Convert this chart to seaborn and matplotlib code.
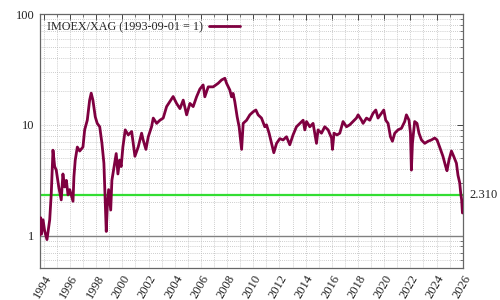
import matplotlib
matplotlib.use("Agg")
import matplotlib.pyplot as plt
import matplotlib.ticker as mticker
import numpy as np
import pandas as pd
import seaborn as sns

years = [
    1993.67, 1993.76, 1993.82, 1993.94, 1994.07, 1994.24, 1994.45, 1994.57, 1994.70, 1994.83,
    1994.95, 1995.14, 1995.33, 1995.46, 1995.59, 1995.72, 1995.85, 1995.98, 1996.23, 1996.30,
    1996.40, 1996.56, 1996.74, 1996.99, 1997.12, 1997.32, 1997.50, 1997.62, 1997.75, 1997.93,
    1998.08, 1998.27, 1998.44, 1998.59, 1998.65, 1998.77, 1998.85, 1998.95, 1999.11, 1999.20,
    1999.41, 1999.53, 1999.66, 1999.79, 1999.91, 2000.04, 2000.22, 2000.45, 2000.71, 2000.96,
    2001.21, 2001.47, 2001.59, 2001.80, 2001.98, 2002.23, 2002.36, 2002.62, 2002.87, 2003.12,
    2003.38, 2003.63, 2003.88, 2004.14, 2004.40, 2004.65, 2004.91, 2005.16, 2005.41, 2005.67,
    2005.92, 2006.17, 2006.30, 2006.56, 2006.94, 2007.32, 2007.58, 2007.83, 2007.96, 2008.21,
    2008.34, 2008.46, 2008.59, 2008.77, 2008.92, 2009.03, 2009.11, 2009.23, 2009.49, 2009.74,
    2009.99, 2010.20, 2010.37, 2010.63, 2010.88, 2011.01, 2011.21, 2011.40, 2011.57, 2011.78,
    2012.03, 2012.28, 2012.54, 2012.79, 2013.04, 2013.30, 2013.56, 2013.81, 2013.94, 2014.07,
    2014.32, 2014.57, 2014.83, 2014.95, 2015.21, 2015.46, 2015.72, 2015.98, 2016.05, 2016.17,
    2016.40, 2016.61, 2016.86, 2017.12, 2017.37, 2017.62, 2017.88, 2018.01, 2018.27, 2018.39,
    2018.65, 2018.90, 2019.15, 2019.36, 2019.53, 2019.79, 2019.97, 2020.12, 2020.30, 2020.48,
    2020.63, 2020.81, 2021.06, 2021.32, 2021.57, 2021.70, 2021.90, 2022.01, 2022.08, 2022.16,
    2022.33, 2022.51, 2022.66, 2022.85, 2023.10, 2023.35, 2023.61, 2023.86, 2024.04, 2024.24,
    2024.49, 2024.70, 2024.80, 2024.95, 2025.14, 2025.31, 2025.52, 2025.64, 2025.77, 2025.85,
    2025.92, 2025.98,
]
ratio = [
    1.00, 1.45, 1.03, 1.39, 1.09, 0.92, 1.39, 2.41, 5.9, 4.2,
    3.9, 2.75, 2.1, 3.6, 2.75, 3.15, 2.33, 2.6, 2.04, 3.4,
    4.8, 6.3, 5.8, 6.3, 9.0, 11.0, 16.7, 19.3, 16.7, 11.8,
    10.3, 9.6, 6.8, 4.5, 2.75, 1.09, 1.83, 2.6, 1.7, 3.15,
    4.5, 5.5, 3.6, 4.8, 4.2, 6.3, 9.0, 8.1, 8.7, 5.2,
    6.3, 8.4, 7.3, 6.0, 7.8, 9.6, 11.5, 10.3, 11.0, 11.5,
    14.6, 16.2, 18.0, 15.6, 14.0, 16.7, 12.3, 15.6, 14.6, 17.9,
    21.0, 22.9, 17.9, 22.0, 22.0, 23.7, 25.4, 26.3, 23.7, 20.6,
    17.9, 19.2, 16.2, 11.8, 9.6, 7.3, 6.0, 10.3, 11.0, 12.3,
    13.1, 13.6, 12.3, 11.5, 9.6, 10.0, 8.4, 6.8, 5.6, 6.8,
    7.5, 7.3, 7.8, 6.6, 8.1, 9.6, 10.3, 11.0, 9.0, 10.7,
    9.6, 10.3, 6.8, 9.0, 8.4, 9.6, 9.0, 7.6, 6.0, 8.4,
    8.1, 8.4, 10.7, 9.6, 10.0, 10.7, 11.5, 12.3, 11.0, 10.3,
    11.5, 11.0, 12.7, 13.6, 11.5, 12.7, 13.6, 11.0, 10.3, 7.8,
    7.1, 8.4, 9.0, 9.3, 10.7, 12.3, 11.0, 8.4, 3.9, 6.8,
    10.7, 10.3, 8.4, 7.3, 6.8, 7.1, 7.3, 7.6, 7.3, 6.3,
    5.2, 4.2, 3.85, 4.8, 5.8, 5.2, 4.5, 3.5, 3.0, 2.4,
    2.1, 1.6,
]
x_ticks = list(range(1994, 2027, 2))
current_level = 2.310
base_level = 1.0
legend_label = "IMOEX/XAG (1993-09-01 = 1)"

df = pd.DataFrame({"year": years, "ratio": ratio})

sns.set_style("white")
plt.rcParams["font.family"] = ["Liberation Serif", "DejaVu Serif"]

fig = plt.figure(figsize=(5, 3), dpi=100)
ax = fig.add_axes([0.079, 0.1067, 0.8464, 0.8466])

ax.set_yscale("log")
ax.set_xlim(1993.67, 2025.98)
ax.set_ylim(0.51, 100)

grid_kw = dict(color="#bdbdbd", linestyle=(0, (1, 1.5)), linewidth=0.6)
ax.xaxis.set_major_locator(mticker.FixedLocator(x_ticks))
ax.xaxis.set_minor_locator(mticker.MultipleLocator(1))
ax.yaxis.set_major_locator(mticker.LogLocator(base=10, numticks=10))
ax.yaxis.set_minor_locator(mticker.LogLocator(base=10, subs=np.arange(2, 10), numticks=20))
ax.yaxis.set_minor_formatter(mticker.NullFormatter())
ax.yaxis.set_major_formatter(mticker.FuncFormatter(lambda v, p: f"{v:g}"))
ax.grid(True, which="both", axis="both", **grid_kw)
ax.set_axisbelow(True)

ax.axhline(base_level, color="#808080", linewidth=1.0, zorder=2)
ax.axhline(current_level, color="#33dd33", linewidth=1.6, zorder=2)

sns.lineplot(data=df, x="year", y="ratio", ax=ax, color="#7f0040",
             linewidth=2.0, label=legend_label, zorder=3)

ax.text(1.016, current_level, f"{current_level:.3f}", transform=ax.get_yaxis_transform(),
        va="center", ha="left", fontsize=9, color="#222222")

ax.set_xlabel("")
ax.set_ylabel("")
ax.set_xticks(x_ticks)
ax.set_xticklabels([str(t) for t in x_ticks], rotation=60, ha="right",
                   rotation_mode="anchor", fontsize=9)
for lbl in ax.get_yticklabels():
    lbl.set_fontsize(9)

ax.tick_params(which="both", direction="in", top=True, right=True, colors="#444444",
               labelcolor="#222222")
ax.tick_params(which="major", length=4, width=0.7)
ax.tick_params(which="minor", length=2, width=0.5)
for s in ax.spines.values():
    s.set_color("#666666")
    s.set_linewidth(0.9)

leg = ax.legend(loc="upper left", frameon=False, markerfirst=False, fontsize=8.7,
                handlelength=2.6, borderaxespad=0.2, handletextpad=0.5)

fig.savefig("out.png", dpi=100)
